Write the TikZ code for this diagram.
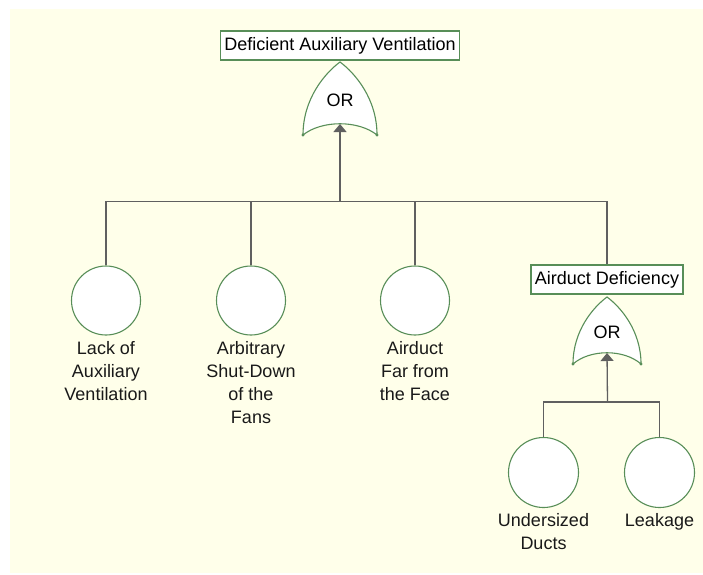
\documentclass[tikz,border=0pt]{standalone}
\usepackage{fontspec}
\setmainfont{Liberation Sans}
\usetikzlibrary{arrows.meta}
\usepackage{xcolor}
\definecolor{bgyellow}{RGB}{255,255,234}
\definecolor{gategreen}{RGB}{88,142,88}
\definecolor{wiregray}{RGB}{96,96,96}

\begin{document}
\begin{tikzpicture}[x=1pt,y=-1pt,
  event/.style={draw=gategreen, line width=1.1pt, fill=white, minimum height=29pt, inner xsep=4pt, inner ysep=0pt, font=\fontsize{18}{23}\selectfont},
  basic/.style={draw=gategreen, line width=1.1pt, fill=white, circle, minimum size=69pt, inner sep=0pt},
  caption/.style={align=center, inner sep=0pt, anchor=north, text=black!90, font=\fontsize{18}{23}\selectfont},
  wire/.style={wiregray, line width=1.3pt},
  gatefill/.style={draw=gategreen, line width=1.1pt, fill=white}]
\useasboundingbox (0,0) rectangle (703,574);
\fill[bgyellow] (10,9) rectangle (703,573);

% gates
\foreach \gx/\gy/\gw/\gh/\gname in {340/62/37/73/gA, 607/297/34/67/gB} {
 \draw[gatefill] (\gx-\gw,\gy+\gh) .. controls (\gx-\gw,\gy+0.5*\gh) and (\gx-0.4*\gw,\gy+0.15*\gh) .. (\gx,\gy)
   .. controls (\gx+0.4*\gw,\gy+0.15*\gh) and (\gx+\gw,\gy+0.5*\gh) .. (\gx+\gw,\gy+\gh)
   .. controls (\gx+0.5*\gw,\gy+\gh-15) and (\gx-0.5*\gw,\gy+\gh-15) .. cycle;
 \fill[gategreen] (\gx-\gw,\gy+\gh) circle (1.6) (\gx+\gw,\gy+\gh) circle (1.6);
 \node[inner sep=0, font=\fontsize{18}{23}\selectfont] (\gname-or) at (\gx,\gy+0.52*\gh) {OR};
 \coordinate (\gname) at (\gx,\gy+\gh-11);
}

\node[event] (top) at (340,45.5) {Deficient Auxiliary Ventilation};
\node[event] (duct) at (607,279.5) {Airduct Deficiency};

\node[basic] (c1) at (106,300.5) {};
\node[basic] (c2) at (251,300.5) {};
\node[basic] (c3) at (415,300.5) {};
\node[basic, minimum size=70pt] (c4) at (543.5,472.5) {};
\node[basic, minimum size=70pt] (c5) at (659.5,472.5) {};

\node[caption] (t1) at (106,341) {Lack of\\Auxiliary\\Ventilation};
\node[caption] (t2) at (251,341) {Arbitrary\\Shut-Down\\of the\\Fans};
\node[caption] (t3) at (415,341) {Airduct\\Far from\\the Face};
\node[caption] (t4) at (543.5,513) {Undersized\\Ducts};
\node[caption] (t5) at (659.5,513) {Leakage};

% connectors
\coordinate (jA) at (340,201.5);
\coordinate (jB) at (607.5,402);
\draw[wire] (c1.north) |- (jA) -| (duct.north);
\draw[wire] (c2.north) -- (c2.north |- jA);
\draw[wire] (c3.north) -- (c3.north |- jA);
\draw[wire, -{Triangle[width=13pt,length=8pt]}] (jA) -- (gA);
\draw[wire] (c4.north) |- (jB) -| (c5.north);
\draw[wire, -{Triangle[width=13pt,length=8pt]}] (jB) -- (gB);
\end{tikzpicture}
\end{document}
